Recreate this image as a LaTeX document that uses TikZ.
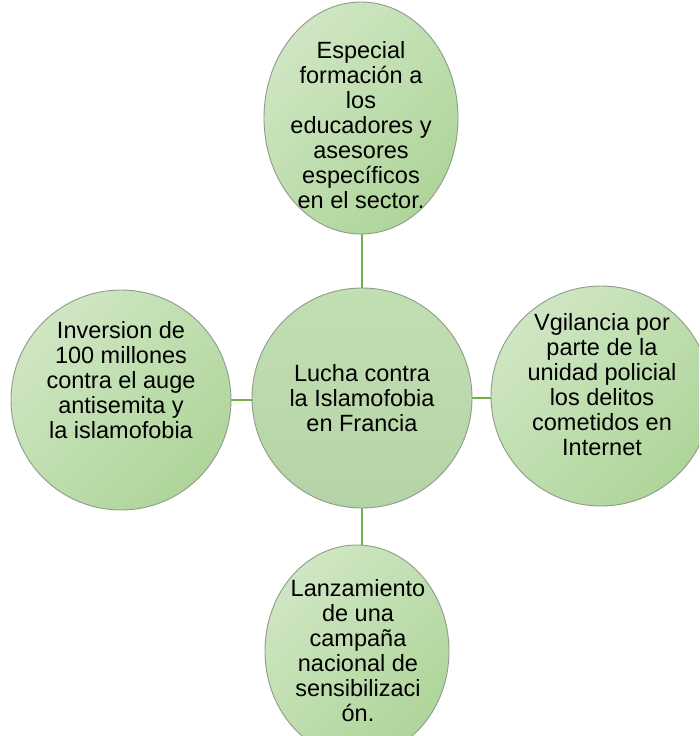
\documentclass[tikz,border=0pt]{standalone}
\usepackage{fontspec}
\setmainfont{Liberation Sans}
\usetikzlibrary{shapes.geometric}
\definecolor{glight}{HTML}{CFE6C3}
\definecolor{gdark}{HTML}{AFD59A}
\definecolor{gmid}{HTML}{BCDCAD}
\definecolor{bordergray}{HTML}{8E9C8B}
\definecolor{linkgreen}{HTML}{72B04E}
\begin{document}
\begin{tikzpicture}[x=1pt,y=-1pt,
  bub/.style={ellipse, draw=bordergray, line width=0.9pt, inner sep=0pt,
    top color=glight, bottom color=gdark, shading angle=45},
  hub/.style={bub, top color=gmid!92!white, bottom color=gmid!96!black},
  lbl/.style={align=center, font=\fontsize{23.5}{25}\selectfont, inner sep=0pt, text=black},
  link/.style={draw=linkgreen, line width=2pt}]
\useasboundingbox (0,0) rectangle (699,736);
\clip (0,0) rectangle (699,736);
\fill[white] (0,0) rectangle (699,736);

\node[bub, minimum width=194pt, minimum height=232pt] (top) at (361,118) {};
\node[hub, minimum width=220pt, minimum height=220pt] (ctr) at (362,398) {};
\node[bub, minimum width=220pt, minimum height=220pt] (left) at (121,400) {};
\node[bub, minimum width=220pt, minimum height=220pt] (right) at (601,396) {};
\node[bub, minimum width=184pt, minimum height=212pt] (bot) at (357,651) {};

\draw[link] (ctr.north) -- (ctr.north |- top.south);
\draw[link] (left.east) -- (left.east -| ctr.west);
\draw[link] (ctr.east) -- (ctr.east -| right.west);
\draw[link] (ctr.south) -- (ctr.south |- bot.north);

\node[lbl] (ttop) at (361,125) {Especial\\formación a\\los\\educadores y\\asesores\\específicos\\en el sector.};
\node[lbl] (tctr) at (362,398) {Lucha contra\\la Islamofobia\\en Francia};
\node[lbl] (tleft) at (121,380) {Inversion de\\100 millones\\contra el auge\\antisemita y\\la islamofobia};
\node[lbl] (tright) at (602,385) {Vgilancia por\\parte de la\\unidad policial\\los delitos\\cometidos en\\Internet};
\node[lbl] (tbot) at (358,651) {Lanzamiento\\de una\\campaña\\nacional de\\sensibilizaci\\ón.};
\end{tikzpicture}
\end{document}
